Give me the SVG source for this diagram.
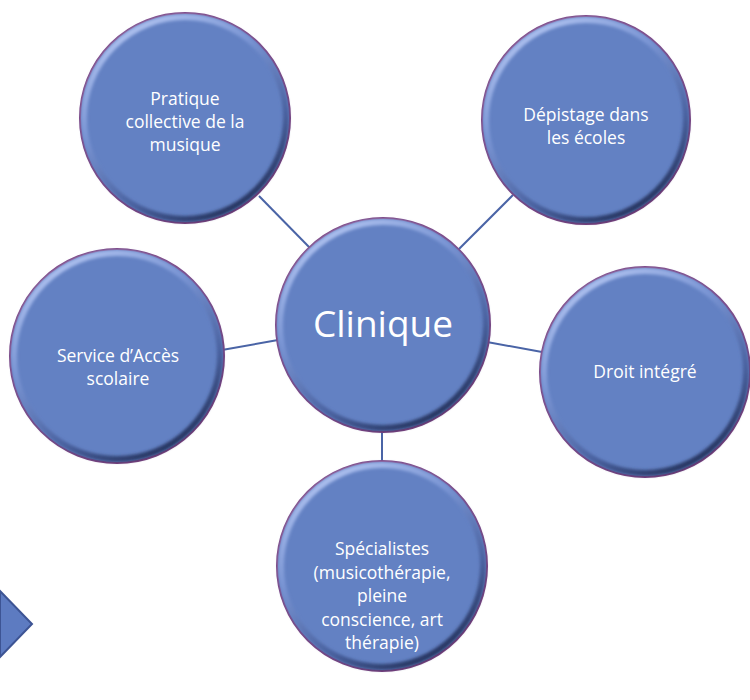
<svg xmlns="http://www.w3.org/2000/svg" width="750" height="700" viewBox="0 0 750 700">
  <defs>
    <linearGradient id="bevel" x1="0.2" y1="0" x2="0.8" y2="1">
      <stop offset="0" stop-color="#b4c6f2"/>
      <stop offset="0.35" stop-color="#7a95d4"/>
      <stop offset="0.7" stop-color="#4a62a0"/>
      <stop offset="1" stop-color="#1e2b52"/>
    </linearGradient>
    <filter id="soft" x="-10%" y="-10%" width="120%" height="120%">
      <feGaussianBlur stdDeviation="1.5"/>
    </filter>
  </defs>
  <style>
    .base { fill: #6381c3; stroke: #7b3f7d; stroke-width: 2; }
    .bev { fill: none; stroke: url(#bevel); stroke-width: 6; filter: url(#soft); }
    .lbl { font-family: "Open Sans", "Noto Sans", sans-serif; font-size: 17.5px; fill: #ffffff; text-anchor: middle; }
    .big { font-family: "Open Sans", "Noto Sans", sans-serif; font-size: 37px; fill: #ffffff; text-anchor: middle; }
    .conn { stroke: #4a64a6; stroke-width: 2; fill: none; }
  </style>
  <rect width="750" height="700" fill="#ffffff"/>

  <g id="connectors">
    <line class="conn" x1="259" y1="196" x2="310" y2="248"/>
    <line class="conn" x1="513" y1="195" x2="459" y2="249"/>
    <line class="conn" x1="222" y1="350" x2="278" y2="340"/>
    <line class="conn" x1="487" y1="342" x2="542" y2="352"/>
    <line class="conn" x1="382" y1="431" x2="382" y2="462"/>
  </g>

  <g id="chevron">
    <polygon points="0,591 32,624 0,657" fill="#5d7bc1" stroke="#3d5494" stroke-width="2"/>
  </g>

  <g id="node-pratique">
    <circle cx="185" cy="118" r="105" class="base"/>
    <circle cx="185" cy="118" r="101" class="bev"/>
    <text class="lbl" x="185" y="105">Pratique</text>
    <text class="lbl" x="185" y="128">collective de la</text>
    <text class="lbl" x="185" y="151">musique</text>
  </g>

  <g id="node-depistage">
    <circle cx="586" cy="120" r="104" class="base"/>
    <circle cx="586" cy="120" r="100" class="bev"/>
    <text class="lbl" x="586" y="121">Dépistage dans</text>
    <text class="lbl" x="586" y="144">les écoles</text>
  </g>

  <g id="node-clinique">
    <circle cx="383" cy="325" r="107" class="base"/>
    <circle cx="383" cy="325" r="103" class="bev"/>
    <text class="big" x="383" y="337">Clinique</text>
  </g>

  <g id="node-service">
    <circle cx="117" cy="356" r="107" class="base"/>
    <circle cx="117" cy="356" r="103" class="bev"/>
    <text class="lbl" x="118" y="362">Service d’Accès</text>
    <text class="lbl" x="118" y="385">scolaire</text>
  </g>

  <g id="node-droit">
    <circle cx="645" cy="372" r="105" class="base"/>
    <circle cx="645" cy="372" r="101" class="bev"/>
    <text class="lbl" x="645" y="378">Droit intégré</text>
  </g>

  <g id="node-specialistes">
    <circle cx="382" cy="566" r="105" class="base"/>
    <circle cx="382" cy="566" r="101" class="bev"/>
    <text class="lbl" x="382" y="555">Spécialistes</text>
    <text class="lbl" x="382" y="579">(musicothérapie,</text>
    <text class="lbl" x="382" y="602">pleine</text>
    <text class="lbl" x="382" y="626">conscience, art</text>
    <text class="lbl" x="382" y="649">thérapie)</text>
  </g>
</svg>
